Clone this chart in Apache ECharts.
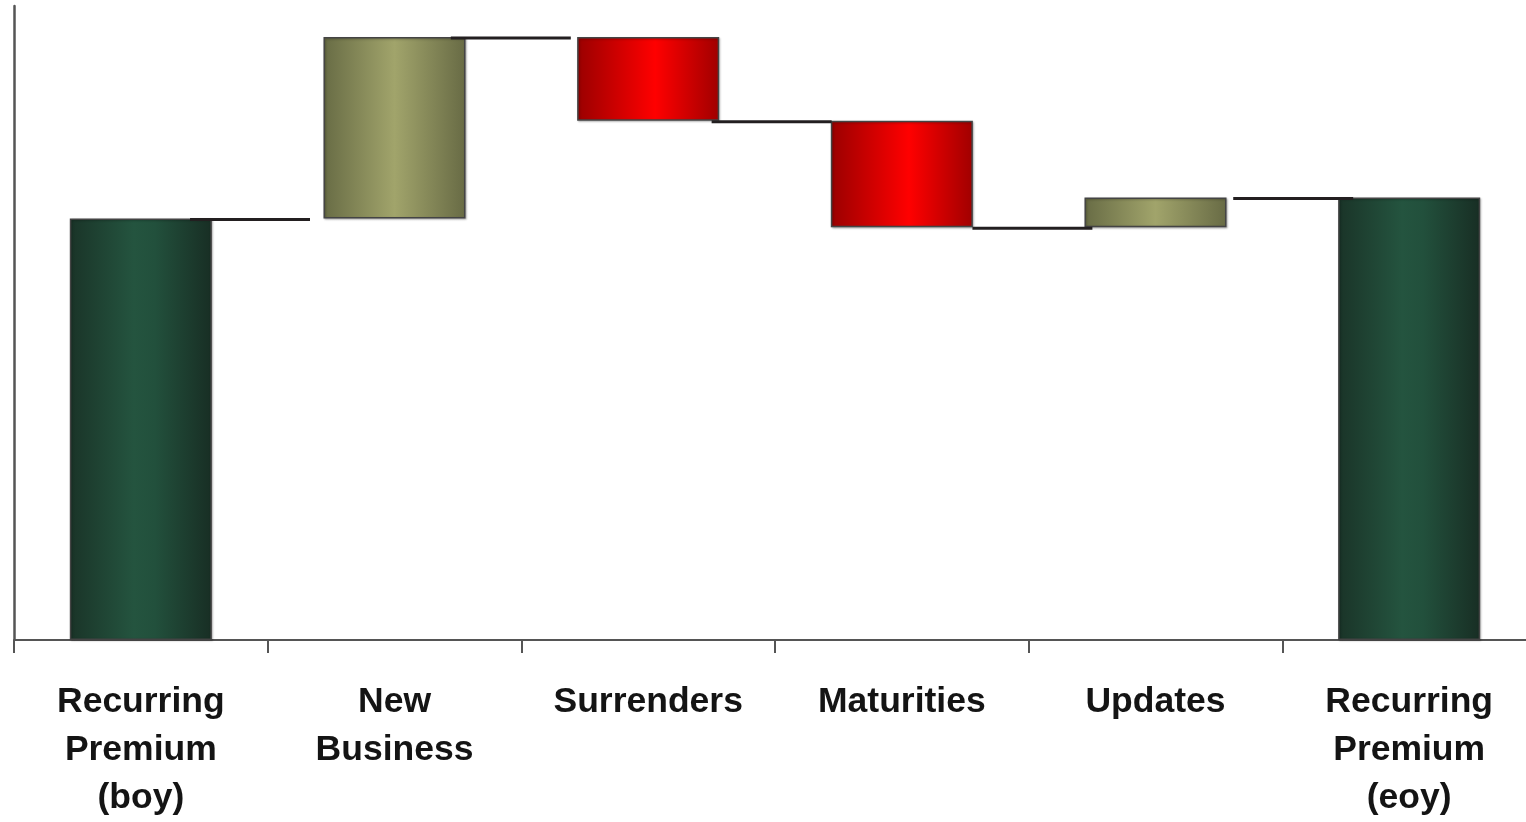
<!DOCTYPE html>
<html>
<head>
<meta charset="utf-8">
<script src="https://cdn.jsdelivr.net/npm/echarts@6/dist/echarts.min.js"></script>
<style>
  html, body { margin: 0; padding: 0; background: #fff; overflow: hidden; }
  #chart { width: 1536px; height: 822px; }
</style>
</head>
<body>
<div id="chart"></div>
<script>
// Recurring premium walk: opening level, movements, closing level
const categories = [
  'Recurring\nPremium\n(boy)',
  'New\nBusiness',
  'Surrenders',
  'Maturities',
  'Updates',
  'Recurring\nPremium\n(eoy)'
];
const openingPremium = 66.5;
const movements = [28.6, -13.2, -16.8, 4.7];   // New Business, Surrenders, Maturities, Updates

// Running levels after each step
const levels = [openingPremium];
movements.forEach(m => levels.push(+(levels[levels.length - 1] + m).toFixed(1)));
const closingPremium = levels[levels.length - 1];

// Stacked bar pieces: invisible base + visible segment
const baseData = [0];
const segData = [];
segData.push({ value: openingPremium, kind: 'total' });
movements.forEach((m, i) => {
  const before = levels[i], after = levels[i + 1];
  baseData.push(Math.min(before, after));
  segData.push({ value: Math.abs(m), kind: m >= 0 ? 'up' : 'down' });
});
baseData.push(0);
segData.push({ value: closingPremium, kind: 'total' });

function hGrad(stops) {
  return new echarts.graphic.LinearGradient(0, 0, 1, 0,
    stops.map(s => ({ offset: s[0], color: s[1] })));
}
const fills = {
  total: hGrad([[0, '#1a3428'], [0.45, '#24543f'], [0.6, '#22503c'], [1, '#182e24']]),
  up: hGrad([[0, '#686c45'], [0.5, '#a1a46b'], [1, '#686b45']]),
  down: hGrad([[0, '#9a0000'], [0.55, '#ff0000'], [1, '#a00000']])
};

const segSeriesData = segData.map(d => ({
  value: d.value,
  itemStyle: { color: fills[d.kind] }
}));

// Connector lines between consecutive bars, at each running level
const connectorData = levels.map((lvl, i) => [i + 1, lvl]);

const chart = echarts.init(document.getElementById('chart'), null, { renderer: 'canvas' });
chart.setOption({
  animation: false,
  backgroundColor: '#ffffff',
  grid: { left: 14, right: 0, top: 6, bottom: 178, containLabel: false },
  xAxis: [
    {
      type: 'category',
      data: categories,
      boundaryGap: true,
      axisLine: { show: true, lineStyle: { color: '#555', width: 2 } },
      axisTick: { show: true, interval: 0, length: 13, lineStyle: { color: '#555', width: 2 } },
      axisLabel: {
        interval: 0,
        margin: 38,
        color: '#141414',
        fontFamily: 'Liberation Sans, Arial, sans-serif',
        fontWeight: 'bold',
        fontSize: 35.5,
        lineHeight: 48
      }
    },
    {
      // Hidden helper axis placing the connector lines along the boundaries
      type: 'value',
      show: false,
      min: 0.095,
      max: 5.931
    }
  ],
  yAxis: {
    type: 'value',
    min: 0,
    max: 100,
    axisLine: { show: true, onZero: false, lineStyle: { color: '#555', width: 2.5 } },
    axisTick: { show: false },
    axisLabel: { show: false },
    splitLine: { show: false }
  },
  series: [
    {
      type: 'bar',
      stack: 'walk',
      data: baseData,
      itemStyle: { color: 'transparent' },
      barWidth: '56%',
      silent: true
    },
    {
      type: 'bar',
      stack: 'walk',
      data: segSeriesData,
      barWidth: '56%',
      itemStyle: {
        borderColor: '#444',
        borderWidth: 1.5,
        shadowColor: 'rgba(0,0,0,0.25)',
        shadowBlur: 2,
        shadowOffsetX: 1,
        shadowOffsetY: 1
      }
    },
    {
      type: 'custom',
      xAxisIndex: 1,
      yAxisIndex: 0,
      data: connectorData,
      clip: false,
      renderItem: function (params, api) {
        const k = api.value(0), lvl = api.value(1);
        const half = 0.23;
        const a = api.coord([k - half, lvl]);
        const b = api.coord([k + half, lvl]);
        return {
          type: 'line',
          shape: { x1: a[0], y1: a[1] + 1, x2: b[0], y2: b[1] + 1 },
          style: { stroke: '#231f20', lineWidth: 3 }
        };
      },
      z: 5
    }
  ]
});
</script>
</body>
</html>
